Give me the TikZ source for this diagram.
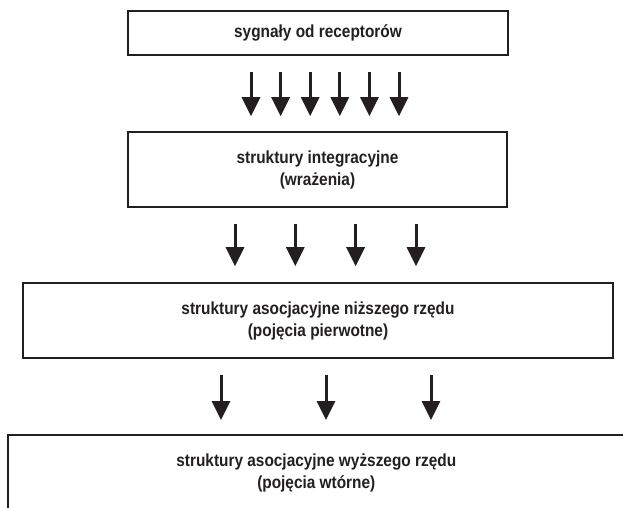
\documentclass[tikz,border=0pt]{standalone}
\usepackage{fontspec}
\setmainfont{Liberation Sans}[FakeStretch=0.88]
\usetikzlibrary{arrows.meta,calc}
\definecolor{ink}{RGB}{35,31,32}
\tikzset{
  box/.style={rectangle,draw=ink,line width=1.6pt,align=center,text=ink,
    font=\fontsize{17.5}{22}\selectfont\bfseries},
  arr/.style={draw=ink,line width=3pt,-{Triangle[width=18pt,length=19pt]}}
}
\begin{document}
\begin{tikzpicture}[x=1pt,y=-1pt]
\useasboundingbox (0,0) rectangle (623,507);
\clip (0,0) rectangle (623,507);
%boxes
\node[box,minimum width=380,minimum height=44] (sig) at (318,33) {sygnały od receptorów};
\node[box,minimum width=379,minimum height=75] (integ) at (317.5,169.5) {struktury integracyjne\\(wrażenia)};
\node[box,minimum width=590,minimum height=75] (nizsze) at (318,320.5) {struktury asocjacyjne niższego rzędu\\(pojęcia pierwotne)};
\node[box,minimum width=625,minimum height=100,anchor=north west] (wyzsze) at (7,434) {};
\node[box,draw=none,anchor=north] (wyzszetxt) at ($(wyzsze.north)+(-4,16)$) {struktury asocjacyjne wyższego rzędu\\(pojęcia wtórne)};
%arrows
\foreach \x in {251,280.6,310.2,339.8,369.4,399}{
\draw[arr] ($(\x,0 |- sig.south)+(0,16)$) -- ($(\x,0 |- integ.north)+(0,-15)$);
}
\foreach \x in {235,295.3,355.6,416}{
\draw[arr] ($(\x,0 |- integ.south)+(0,16)$) -- ($(\x,0 |- nizsze.north)+(0,-16)$);
}
\foreach \x in {221,326,431}{
\draw[arr] ($(\x,0 |- nizsze.south)+(0,16)$) -- ($(\x,0 |- wyzsze.north)+(0,-14)$);
}
\end{tikzpicture}
\end{document}
